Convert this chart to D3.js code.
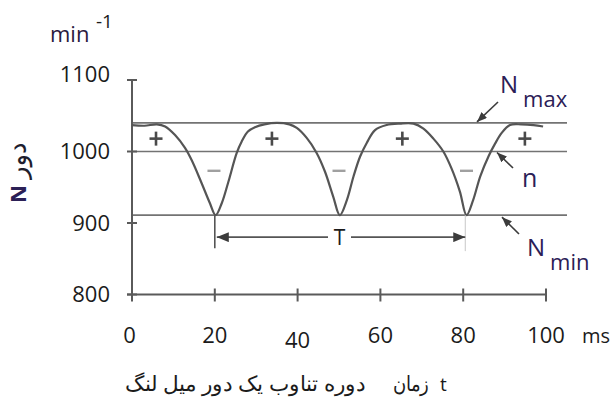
<!DOCTYPE html>
<html>
<head>
<meta charset="utf-8">
<script src="https://cdn.jsdelivr.net/npm/d3@7"></script>
<style>
  html, body { margin: 0; padding: 0; background: #fff; }
  svg { display: block; }
  text { font-family: "Open Sans", "Noto Sans", sans-serif; }
</style>
</head>
<body>
<svg id="chart" width="613" height="403"></svg>
<script>
// Crankshaft speed over one engine cycle (ms → min^-1)
const timeMs = [0, 3, 6, 8, 10.4, 12.8, 14.4, 16.8, 18.8, 20.2, 21.7, 23.2, 25.3, 26.5, 28, 29.7,
  32, 35, 38, 39.8, 42.2, 44.6, 46.6, 48.6, 50.2, 51.9, 53.5, 55.1, 56.7, 58.7, 61.5, 64.7,
  68, 70.4, 72.8, 75.2, 77.2, 79.2, 80.8, 82.4, 84.1, 86.1, 87.7, 89.3, 91.3, 94, 97, 99.3];
const speed = [1037, 1036, 1038, 1035, 1023, 1005, 988, 956, 928, 911, 928, 956, 998, 1014, 1028, 1034,
  1038, 1040, 1038, 1033, 1019, 998, 972, 937, 911, 932, 965, 993, 1012, 1030, 1037, 1039,
  1039, 1032, 1018, 1000, 976, 944, 911, 932, 965, 993, 1011, 1026, 1037, 1038, 1037, 1035];

// Reference levels
const nMax = 1040, nMean = 1000, nMin = 911;

// Axis ticks
const xTicks = [0, 20, 40, 60, 80, 100];
const yTicks = [800, 900, 1000, 1100];

// Sign markers (acceleration above mean, deceleration below)
const plusTimes = [5.8, 33.8, 65.3, 94.9];
const minusTimes = [19.8, 50, 80.8];
const plusLevel = 1018, minusLevel = 973;

// Period marker spans two minima
const periodStart = 20, periodEnd = 80.5;

const svg = d3.select("#chart");
const x = d3.scaleLinear().domain([0, 100]).range([132, 546]);
const y = d3.scaleLinear().domain([800, 1100]).range([294.5, 80]);

const gridColor = "#737373";
const axisColor = "#5a5a5a";
const textColor = "#1b1b1b";
const labelColor = "#2b2056";

// arrowhead markers
const defs = svg.append("defs");
defs.append("marker").attr("id", "head").attr("viewBox", "0 0 12 10")
  .attr("refX", 12).attr("refY", 5).attr("markerWidth", 12).attr("markerHeight", 10)
  .attr("markerUnits", "userSpaceOnUse").attr("orient", "auto")
  .append("path").attr("d", "M0,0 L12,5 L0,10 Z").attr("fill", "#3c3c3c");
defs.append("marker").attr("id", "ptr").attr("viewBox", "0 0 10 8")
  .attr("refX", 10).attr("refY", 4).attr("markerWidth", 10).attr("markerHeight", 8)
  .attr("markerUnits", "userSpaceOnUse").attr("orient", "auto")
  .append("path").attr("d", "M0,0 L10,4 L0,8 Z").attr("fill", "#3c3c3c");

// Horizontal reference lines
const levels = [nMax, nMean, nMin];
svg.append("g").selectAll("line").data(levels).join("line")
  .attr("x1", x(0)).attr("x2", x(100) + 21)
  .attr("y1", d => y(d)).attr("y2", d => y(d))
  .attr("stroke", gridColor).attr("stroke-width", 1.6);

// Axes
const axisG = svg.append("g");
axisG.append("line").attr("x1", x(0)).attr("x2", x(0)).attr("y1", y(1100)).attr("y2", y(800))
  .attr("stroke", axisColor).attr("stroke-width", 2);
axisG.append("line").attr("x1", x(0) - 5).attr("x2", x(100)).attr("y1", y(800)).attr("y2", y(800))
  .attr("stroke", axisColor).attr("stroke-width", 2);

// y ticks cross the axis
axisG.selectAll("line.yt").data(yTicks).join("line").attr("class", "yt")
  .attr("x1", x(0) - 5).attr("x2", x(0) + 5)
  .attr("y1", d => y(d)).attr("y2", d => y(d))
  .attr("stroke", axisColor).attr("stroke-width", 2);
axisG.selectAll("text.yl").data(yTicks).join("text").attr("class", "yl")
  .attr("x", x(0) - 22).attr("y", d => y(d) - (d === 1100 ? 6 : 0)).attr("dy", "0.36em")
  .attr("text-anchor", "end").attr("font-size", 22).attr("fill", textColor)
  .text(d => d);

// x ticks cross the axis
axisG.selectAll("line.xt").data(xTicks).join("line").attr("class", "xt")
  .attr("x1", d => x(d)).attr("x2", d => x(d))
  .attr("y1", y(800) - 6).attr("y2", y(800) + 7)
  .attr("stroke", axisColor).attr("stroke-width", 2);
axisG.selectAll("text.xl").data(xTicks).join("text").attr("class", "xl")
  .attr("x", d => x(d) + (d === 0 ? -2.5 : 0))
  .attr("y", d => d === 40 ? 348 : 343)
  .attr("text-anchor", "middle").attr("font-size", 22).attr("fill", textColor)
  .text(d => d);
svg.append("text").attr("x", 582).attr("y", 343).attr("font-size", 20).attr("fill", textColor).text("ms");

// Unit label
svg.append("text").attr("x", 50).attr("y", 42).attr("font-size", 22).attr("fill", "#2a1a3e").text("min");
svg.append("text").attr("x", 96).attr("y", 28).attr("font-size", 19).attr("fill", textColor).text("-1");

// Rotated axis title
svg.append("text").attr("transform", "translate(26,203) rotate(-90)")
  .attr("font-size", 22).attr("fill", labelColor)
  .call(t => {
    t.append("tspan").attr("font-weight", "bold").text("N");
    t.append("tspan").attr("dx", 6).attr("font-family", "DejaVu Sans").attr("font-size", 26)
      .attr("fill", "#1e1e2e").text("دور");
  });

// Speed curve
const line = d3.line().x((d, i) => x(timeMs[i])).y(d => y(d)).curve(d3.curveCatmullRom.alpha(0.5));
svg.append("path").datum(speed).attr("d", line)
  .attr("fill", "none").attr("stroke", "#555").attr("stroke-width", 2.2);

// Sign markers
const plusG = svg.append("g");
plusTimes.forEach(t => {
  const cx = x(t), cy = y(plusLevel);
  plusG.append("line").attr("x1", cx - 6.5).attr("x2", cx + 6.5).attr("y1", cy).attr("y2", cy)
    .attr("stroke", "#4a4a4a").attr("stroke-width", 2.6);
  plusG.append("line").attr("x1", cx).attr("x2", cx).attr("y1", cy - 7).attr("y2", cy + 7)
    .attr("stroke", "#4a4a4a").attr("stroke-width", 2.6);
});
svg.append("g").selectAll("line").data(minusTimes).join("line")
  .attr("x1", d => x(d) - 6.5).attr("x2", d => x(d) + 6.5)
  .attr("y1", y(minusLevel)).attr("y2", y(minusLevel))
  .attr("stroke", "#a0a0a0").attr("stroke-width", 2.4);

// Period marker
svg.append("line").attr("x1", x(periodStart)).attr("x2", x(periodStart))
  .attr("y1", y(nMin)).attr("y2", y(nMin) + 33).attr("stroke", "#555").attr("stroke-width", 1.6);
svg.append("line").attr("x1", x(periodEnd)).attr("x2", x(periodEnd))
  .attr("y1", y(nMin)).attr("y2", y(nMin) + 36).attr("stroke", "#c8c8c8").attr("stroke-width", 1);
const arrowY = y(nMin) + 22;
svg.append("line").attr("x1", 328).attr("x2", x(periodStart) + 2).attr("y1", arrowY).attr("y2", arrowY)
  .attr("stroke", "#555").attr("stroke-width", 1.8).attr("marker-end", "url(#head)");
svg.append("line").attr("x1", 351).attr("x2", x(periodEnd)).attr("y1", arrowY).attr("y2", arrowY)
  .attr("stroke", "#555").attr("stroke-width", 1.8).attr("marker-end", "url(#head)");
svg.append("text").attr("x", 339.5).attr("y", arrowY + 7.5).attr("text-anchor", "middle")
  .attr("font-size", 21).attr("fill", textColor).text("T");

// Level labels with pointers
function pointer(x1, y1, x2, y2) {
  svg.append("line").attr("x1", x1).attr("y1", y1).attr("x2", x2).attr("y2", y2)
    .attr("stroke", "#3c3c3c").attr("stroke-width", 1.6).attr("marker-end", "url(#ptr)");
}
pointer(498, 102, 477, y(nMax) - 1);
pointer(513, 168, 497, y(nMean) + 1);
pointer(519, 234, 502, y(nMin) + 2);

function subLabel(xp, yp, main, sub) {
  const t = svg.append("text").attr("x", xp).attr("y", yp).attr("fill", labelColor);
  t.append("tspan").attr("font-size", 24).text(main);
  t.append("tspan").attr("font-size", 22).attr("dx", 5).attr("dy", 14).text(sub);
}
subLabel(500, 93, "N", "max");
svg.append("text").attr("x", 522).attr("y", 187).attr("font-size", 25).attr("fill", labelColor).text("n");
subLabel(527, 256, "N", "min");

// Bottom caption (Persian): "t" followed, right to left, by the two phrases
const capG = svg.append("g").attr("font-family", "DejaVu Sans").attr("fill", textColor);
capG.append("text").attr("x", 440).attr("y", 391).attr("font-family", "Open Sans")
  .attr("font-size", 19).text("t");
capG.append("text").attr("x", 429).attr("y", 391).attr("text-anchor", "end")
  .attr("font-size", 21).attr("textLength", 36).attr("lengthAdjust", "spacingAndGlyphs")
  .text("زمان");
capG.append("text").attr("x", 365).attr("y", 391).attr("text-anchor", "end")
  .attr("font-size", 21).attr("textLength", 240).attr("lengthAdjust", "spacingAndGlyphs")
  .text("دوره تناوب یک دور میل لنگ");
</script>
</body>
</html>
